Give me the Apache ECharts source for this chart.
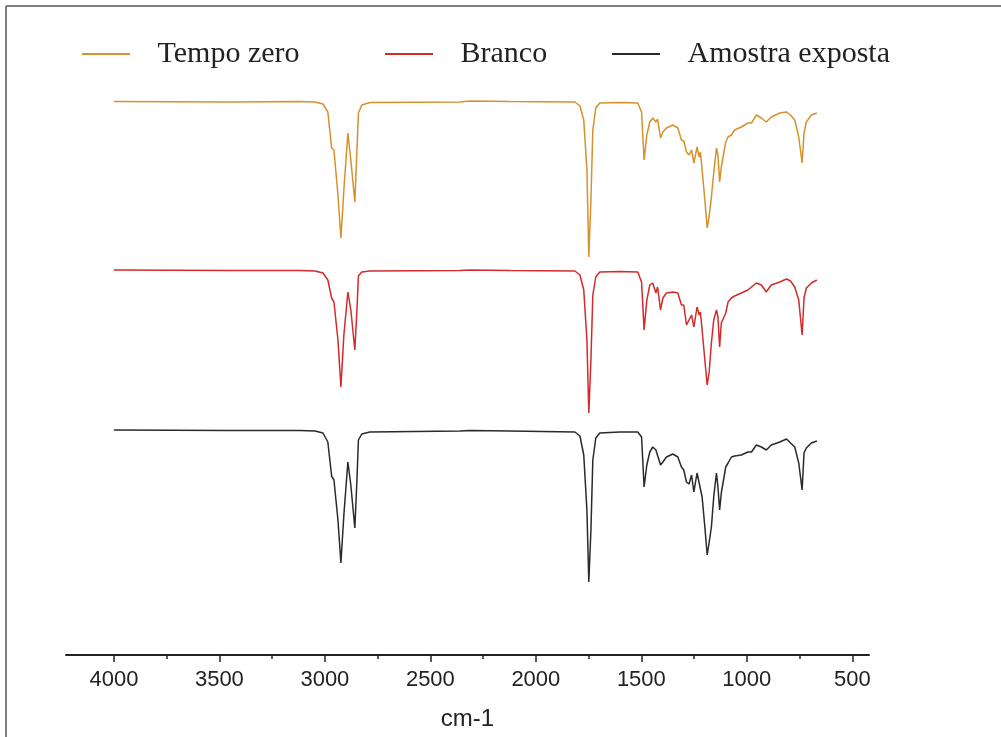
<!DOCTYPE html>
<html>
<head>
<meta charset="utf-8">
<script src="https://cdn.jsdelivr.net/npm/echarts@6/dist/echarts.min.js"></script>
<style>
html,body{margin:0;padding:0;background:#fff;}
#chart{width:1001px;height:737px;}
</style>
</head>
<body>
<div id="chart"></div>
<script>
// Wavenumbers (cm-1), shared by the three spectra
const wavenumbers = [4000,3450,3118,3047,3009,2986,2968,2957,2938,2924,2910,2891,2877,2858,2848,2841,2825,2787,2360,2313,2123,1815,1791,1773,1758,1749,1739,1730,1716,1697,1602,1517,1499,1487,1474,1460,1446,1431,1423,1409,1398,1381,1351,1327,1310,1299,1286,1274,1262,1251,1236,1226,1220,1212,1199,1188,1179,1168,1157,1144,1137,1129,1121,1100,1089,1073,1058,1026,995,978,971,955,931,908,884,844,812,793,773,754,738,729,718,694,668];

// Offset transmittance (arbitrary units)
const tempoZero = [553.5,553,553.5,553,551,543,507,505,460,417,465,522,495,453,505,542,550,552.5,553,554,553.5,553,549,535,485,398,455,525,547,552,552.5,552,543,495,520,533,537,533,536,517,523,527,530,527,515,514,503,500,505,492,508,498,503,485,455,427,438,458,482,507,500,473,488,513,518,520,525,528,532,532,533,540,537,533,538,542,543,540,535,518,492,522,533,540,542];
const branco = [385,384.5,384.5,384,382,375,357,353,315,268,320,363,345,305,345,379,383,384,384.5,385,384.5,384,380,365,315,242,295,360,378,383,383.5,383,373,325,355,370,372,362,368,345,357,362,363,362,350,350,330,335,340,328,348,340,343,325,295,270,282,312,335,345,338,308,332,342,353,357,359,362,365,368,369,372,370,363,370,373,376,374,368,355,320,357,367,372,375];
const amostraExposta = [225,224.5,224.5,224,222,213,179,175,135,92,140,193,170,127,175,215,221,223,224,224.5,224,223,219,200,145,73,125,195,217,222,223,223,218,168,190,203,208,205,207,190,193,198,201,198,188,185,173,171,180,163,182,172,173,158,128,100,112,128,158,182,168,145,162,188,192,198,199,200,203,203,204,210,208,205,210,213,216,212,208,192,165,202,207,212,214];

const seriesNames = ['Tempo zero', 'Branco', 'Amostra exposta'];
const seriesColors = ['#D6912C', '#D42A2A', '#2A2A2A'];
const majorTicks = [4000,3500,3000,2500,2000,1500,1000,500];
const minorTicks = [3750,3250,2750,2250,1750,1250,750];
const xName = 'cm-1';

const chart = echarts.init(document.getElementById('chart'));
const valuesList = [tempoZero, branco, amostraExposta];
const legendLefts = [77, 380, 607];

const option = {
  animation: false,
  backgroundColor: '#ffffff',
  grid: { left: 66, right: 132, top: 55, bottom: 82 },
  legend: seriesNames.map((n, i) => ({
    data: [n],
    left: legendLefts[i],
    top: 34,
    icon: 'rect',
    itemWidth: 48,
    itemHeight: 2,
    formatter: '   {name}',
    textStyle: { fontFamily: 'Liberation Serif', fontSize: 30, color: '#222' }
  })),
  xAxis: [
    {
      type: 'value', inverse: true, min: 421, max: 4227,
      position: 'bottom',
      name: xName, nameLocation: 'middle', nameGap: 52,
      nameTextStyle: { fontFamily: 'Liberation Sans', fontSize: 24, color: '#222' },
      splitLine: { show: false },
      axisLine: { show: true, lineStyle: { color: '#222', width: 2 } },
      axisTick: { show: true, customValues: majorTicks, length: 7, lineStyle: { color: '#222', width: 1.5 } },
      axisLabel: { customValues: majorTicks, margin: 14, formatter: v => String(v), fontFamily: 'Liberation Sans', fontSize: 22, color: '#222' }
    },
    {
      type: 'value', inverse: true, min: 421, max: 4227,
      position: 'bottom',
      splitLine: { show: false },
      axisLine: { show: false },
      axisTick: { show: true, customValues: minorTicks, length: 4, lineStyle: { color: '#222', width: 1.5 } },
      axisLabel: { show: false }
    }
  ],
  yAxis: { type: 'value', min: 0, max: 600, show: false },
  series: seriesNames.map((n, i) => ({
    name: n,
    type: 'line',
    xAxisIndex: 0,
    showSymbol: false,
    symbol: 'none',
    color: seriesColors[i],
    lineStyle: { color: seriesColors[i], width: 1.5 },
    data: wavenumbers.map((w, k) => [w, valuesList[i][k]])
  })),
  graphic: [
    { type: 'line', shape: { x1: 6, y1: 6, x2: 1001, y2: 6 }, style: { stroke: '#555', lineWidth: 1.5 } },
    { type: 'line', shape: { x1: 6, y1: 6, x2: 6, y2: 737 }, style: { stroke: '#555', lineWidth: 1.5 } }
  ]
};
chart.setOption(option);
</script>
</body>
</html>
